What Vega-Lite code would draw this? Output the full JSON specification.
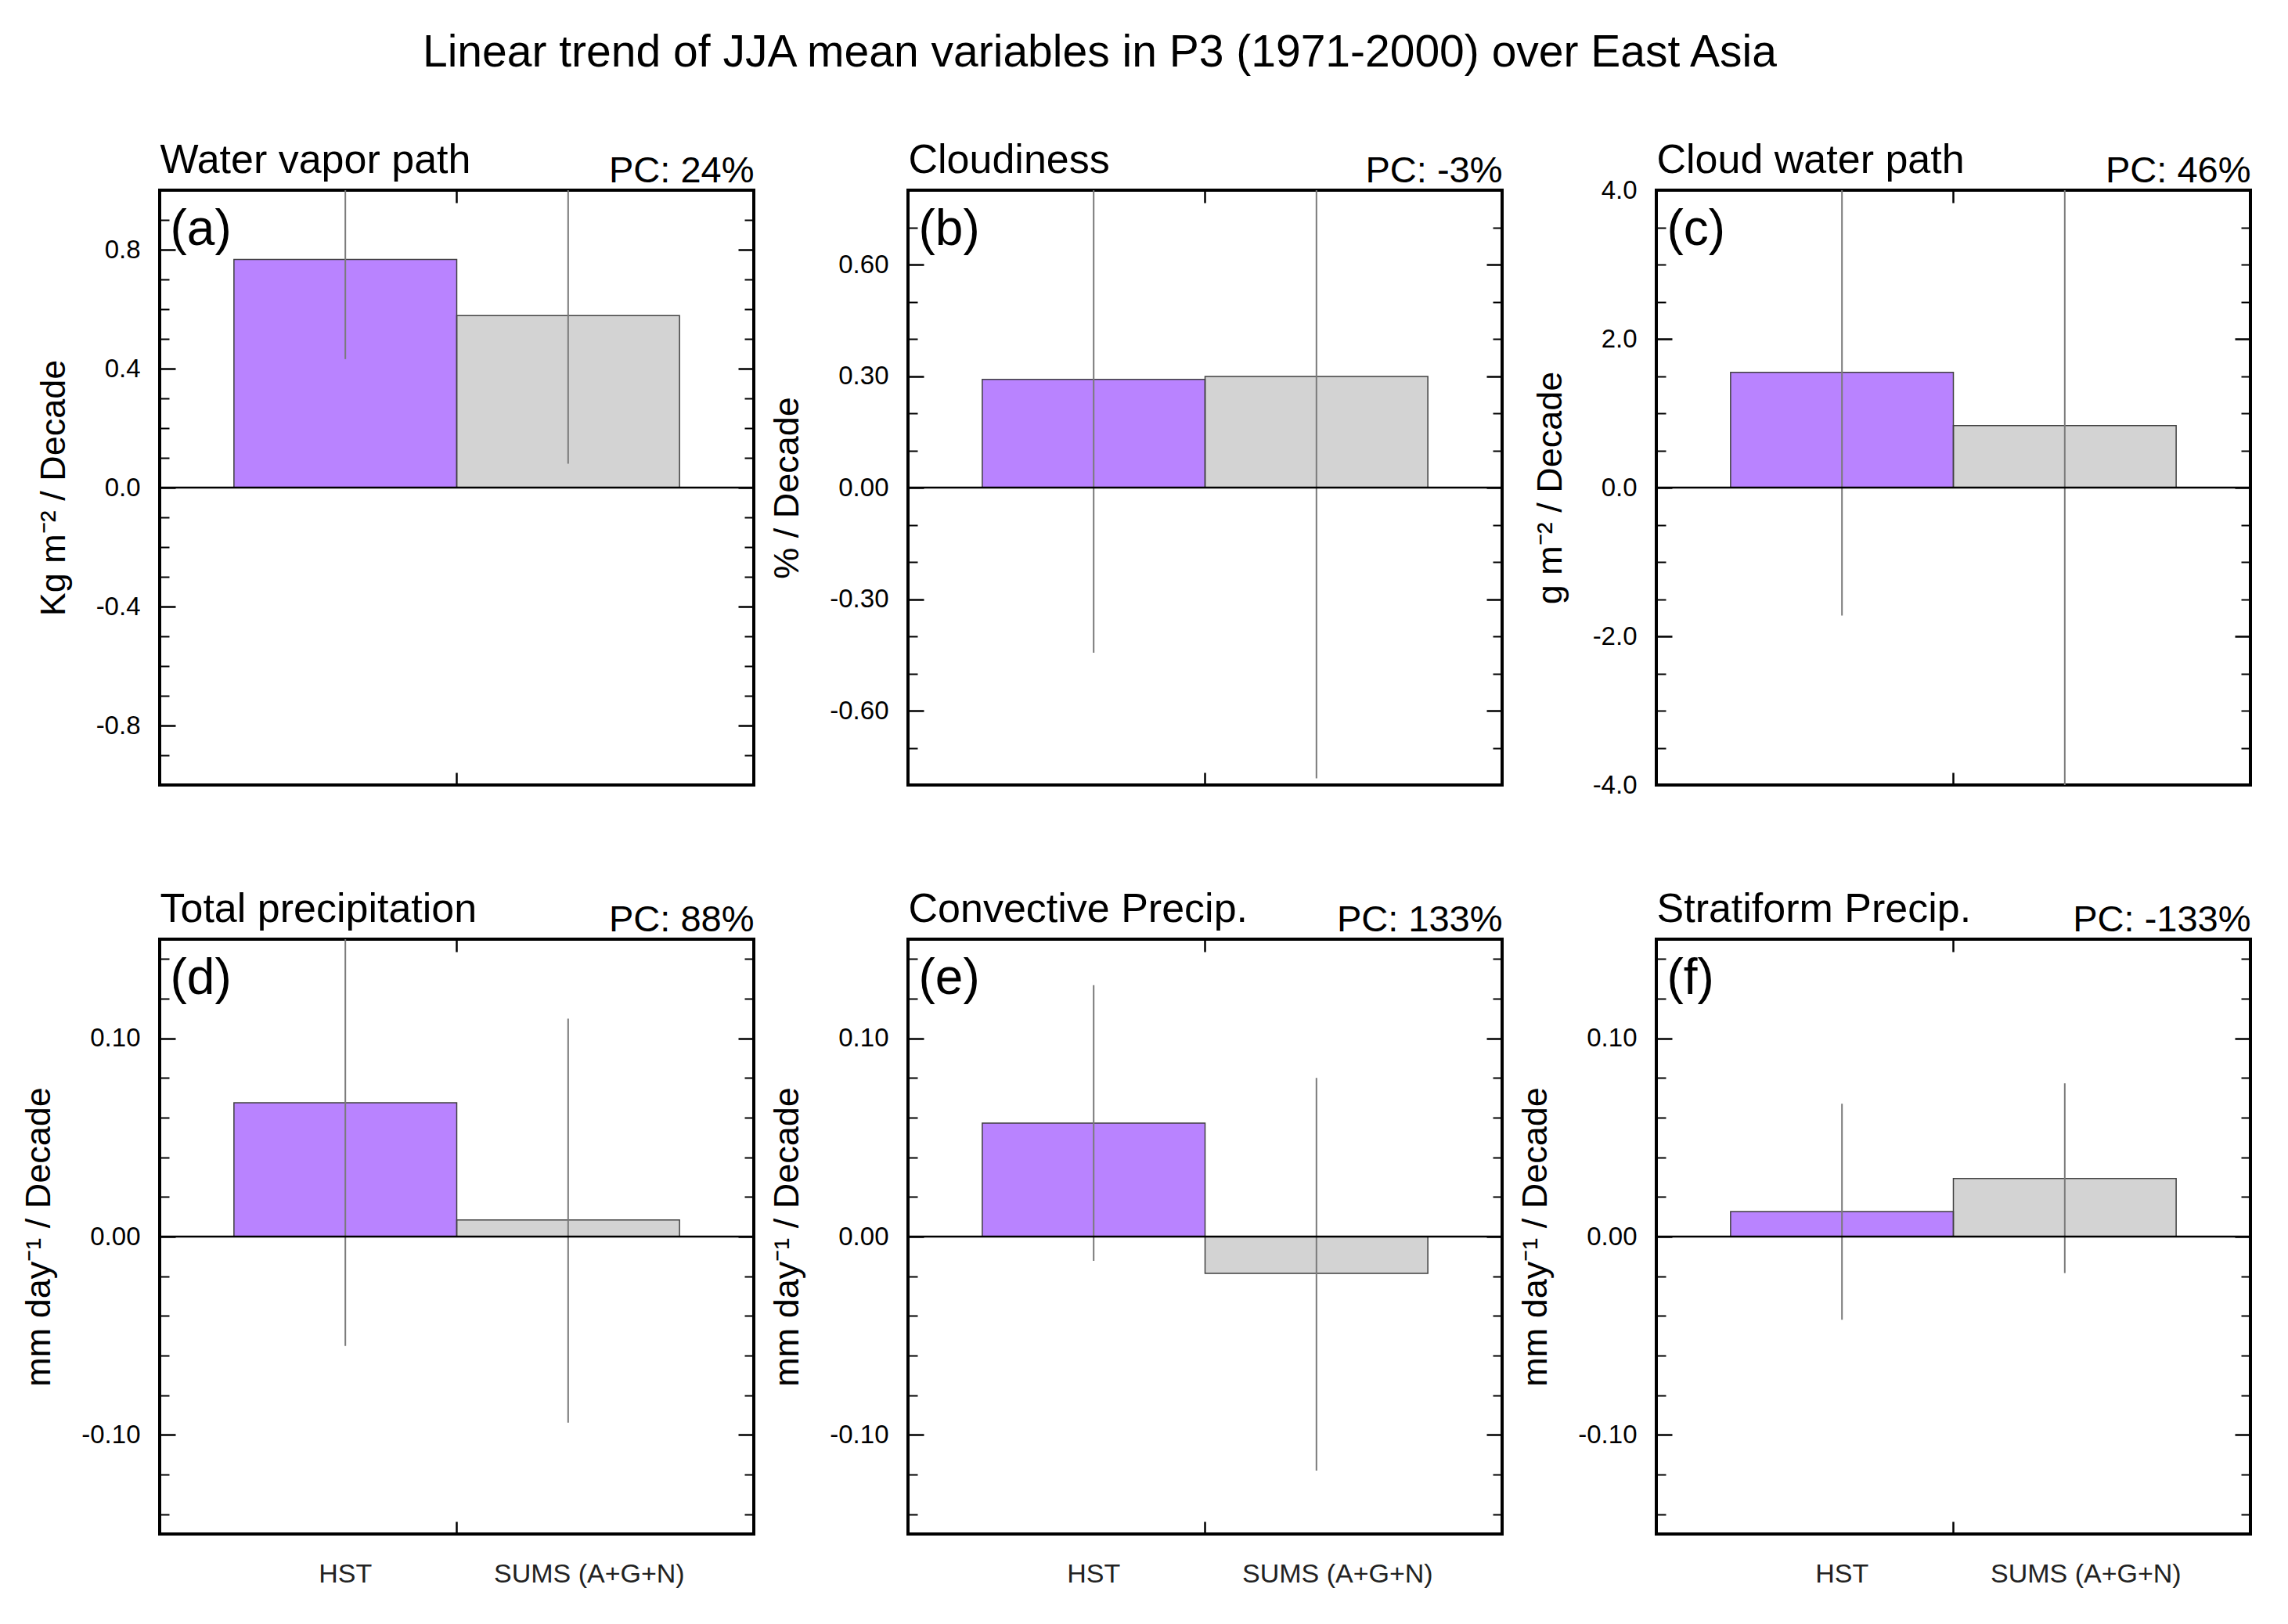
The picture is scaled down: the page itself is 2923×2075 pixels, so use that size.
{
  "$schema": "https://vega.github.io/schema/vega-lite/v6.json",
  "autosize": {"type": "pad"},
  "padding": {"left": 25, "top": 39, "right": 20, "bottom": 10},
  "background": "white",
  "title": {"text": "Linear trend of JJA mean variables in P3 (1971-2000) over East Asia", "anchor": "start", "frame": "group", "dx": 336, "offset": 34, "fontSize": 57, "fontWeight": "normal", "baseline": "alphabetic", "color": "black", "font": "Liberation Sans"},
  "data": {"values": [
    {"panel": "a", "group": "HST", "value": 0.767, "lo": 0.432, "hi": 1.102},
    {"panel": "a", "group": "SUMS (A+G+N)", "value": 0.578, "lo": 0.080, "hi": 1.076},
    {"panel": "b", "group": "HST", "value": 0.291, "lo": -0.444, "hi": 1.026},
    {"panel": "b", "group": "SUMS (A+G+N)", "value": 0.299, "lo": -0.782, "hi": 1.380},
    {"panel": "c", "group": "HST", "value": 1.549, "lo": -1.721, "hi": 4.819},
    {"panel": "c", "group": "SUMS (A+G+N)", "value": 0.834, "lo": -4.2, "hi": 5.868},
    {"panel": "d", "group": "HST", "value": 0.0675, "lo": -0.0552, "hi": 0.190},
    {"panel": "d", "group": "SUMS (A+G+N)", "value": 0.0084, "lo": -0.0938, "hi": 0.1099},
    {"panel": "e", "group": "HST", "value": 0.0572, "lo": -0.0122, "hi": 0.1268},
    {"panel": "e", "group": "SUMS (A+G+N)", "value": -0.0186, "lo": -0.118, "hi": 0.080},
    {"panel": "f", "group": "HST", "value": 0.0126, "lo": -0.0419, "hi": 0.067},
    {"panel": "f", "group": "SUMS (A+G+N)", "value": 0.0293, "lo": -0.0184, "hi": 0.0773}
  ]},
  "columns": 3,
  "spacing": 197,
  "bounds": "flush",
  "concat": [
    {
      "width": 759, "height": 760,
      "transform": [{"filter": "datum.panel === 'a'"}],
      "resolve": {"axis": {"x": "independent", "y": "independent"}},
      "layer": [
        {"mark": {"type": "bar", "strokeWidth": 0},
         "encoding": {
           "x": {"field": "group", "type": "nominal", "scale": {"type": "band", "domain": ["HST", "SUMS (A+G+N)"], "paddingInner": 0, "paddingOuter": 0.3333}, "axis": {"orient": "bottom", "values": ["SUMS (A+G+N)"], "bandPosition": 0, "tickSize": -16, "tickWidth": 2.5, "tickColor": "black", "labels": false, "domain": false, "grid": false, "title": null}},
           "y": {"field": "value", "type": "quantitative", "scale": {"domain": [-1, 1], "nice": false, "zero": false}, "axis": {"orient": "left", "values": [-0.8, -0.4, 0, 0.4, 0.8], "tickSize": -20, "tickWidth": 2.5, "tickColor": "black", "labelPadding": 45, "labelFontSize": 33, "labelColor": "black", "labelExpr": "replace(format(datum.value, '.1f'), '\u2212', '-')", "labelOverlap": false, "domain": false, "grid": false, "title": "Kg m\u207b\u00b2 / Decade", "titleFontSize": 45, "titleFontWeight": "normal", "titlePadding": 31, "titleColor": "black"}},
           "y2": {"datum": 0},
           "color": {"field": "group", "type": "nominal", "scale": {"domain": ["HST", "SUMS (A+G+N)"], "range": ["#B983FF", "#D3D3D3"]}, "legend": null}
         }},
        {"mark": {"type": "bar", "filled": false, "stroke": "#404040", "strokeWidth": 1.5},
         "encoding": {
           "x": {"field": "group", "type": "nominal", "scale": {"type": "band", "domain": ["HST", "SUMS (A+G+N)"], "paddingInner": 0, "paddingOuter": 0.3333}, "axis": null},
           "y": {"field": "value", "type": "quantitative", "scale": {"domain": [-1, 1], "nice": false, "zero": false}, "axis": {"orient": "right", "values": [-0.9, -0.7, -0.6, -0.5, -0.3, -0.2, -0.1, 0.1, 0.2, 0.3, 0.5, 0.6, 0.7, 0.9], "tickSize": -12, "tickWidth": 2, "tickColor": "black", "labels": false, "domain": false, "grid": false, "title": null}},
           "y2": {"datum": 0}
         }},
        {"mark": {"type": "rule", "color": "#7a7a7a", "strokeWidth": 2, "clip": true},
         "encoding": {
           "x": {"field": "group", "type": "nominal", "scale": {"type": "band", "domain": ["HST", "SUMS (A+G+N)"], "paddingInner": 0, "paddingOuter": 0.3333}, "axis": {"orient": "top", "values": ["SUMS (A+G+N)"], "bandPosition": 0, "tickSize": -16, "tickWidth": 2.5, "tickColor": "black", "labels": false, "domain": false, "grid": false, "title": "Water vapor path", "titleX": 0, "titleY": -23, "titleAngle": 0, "titleAlign": "left", "titleBaseline": "alphabetic", "titleFontSize": 52, "titleFontWeight": "normal", "titleColor": "black"}},
           "y": {"field": "lo", "type": "quantitative", "scale": {"domain": [-1, 1], "nice": false, "zero": false}, "axis": {"orient": "right", "values": [-0.8, -0.4, 0, 0.4, 0.8], "tickSize": -20, "tickWidth": 2.5, "tickColor": "black", "labels": false, "domain": false, "grid": false, "title": "PC: 24%", "titleX": 0, "titleY": -11, "titleAngle": 0, "titleAlign": "right", "titleBaseline": "alphabetic", "titleFontSize": 47, "titleFontWeight": "normal", "titleColor": "black"}},
           "y2": {"field": "hi"}
         }},
        {"transform": [{"filter": "datum.group === 'HST'"}],
         "mark": {"type": "rule", "color": "black", "strokeWidth": 2.5},
         "encoding": {
           "y": {"datum": 0, "type": "quantitative", "scale": {"domain": [-1, 1], "nice": false, "zero": false}, "axis": {"orient": "left", "values": [-0.9, -0.7, -0.6, -0.5, -0.3, -0.2, -0.1, 0.1, 0.2, 0.3, 0.5, 0.6, 0.7, 0.9], "tickSize": -12, "tickWidth": 2, "tickColor": "black", "labels": false, "domain": false, "grid": false, "title": "(a)", "titleX": 13, "titleY": 69, "titleAngle": 0, "titleAlign": "left", "titleBaseline": "alphabetic", "titleFontSize": 64, "titleFontWeight": "normal", "titleColor": "black"}}
         }}
      ]
    },
    {
      "width": 759, "height": 760,
      "transform": [{"filter": "datum.panel === 'b'"}],
      "resolve": {"axis": {"x": "independent", "y": "independent"}},
      "layer": [
        {"mark": {"type": "bar", "strokeWidth": 0},
         "encoding": {
           "x": {"field": "group", "type": "nominal", "scale": {"type": "band", "domain": ["HST", "SUMS (A+G+N)"], "paddingInner": 0, "paddingOuter": 0.3333}, "axis": {"orient": "bottom", "values": ["SUMS (A+G+N)"], "bandPosition": 0, "tickSize": -16, "tickWidth": 2.5, "tickColor": "black", "labels": false, "domain": false, "grid": false, "title": null}},
           "y": {"field": "value", "type": "quantitative", "scale": {"domain": [-0.8, 0.8], "nice": false, "zero": false}, "axis": {"orient": "left", "values": [-0.6, -0.3, 0, 0.3, 0.6], "tickSize": -20, "tickWidth": 2.5, "tickColor": "black", "labelPadding": 45, "labelFontSize": 33, "labelColor": "black", "labelExpr": "replace(format(datum.value, '.2f'), '\u2212', '-')", "labelOverlap": false, "domain": false, "grid": false, "title": "% / Decade", "titleFontSize": 45, "titleFontWeight": "normal", "titlePadding": 31, "titleColor": "black"}},
           "y2": {"datum": 0},
           "color": {"field": "group", "type": "nominal", "scale": {"domain": ["HST", "SUMS (A+G+N)"], "range": ["#B983FF", "#D3D3D3"]}, "legend": null}
         }},
        {"mark": {"type": "bar", "filled": false, "stroke": "#404040", "strokeWidth": 1.5},
         "encoding": {
           "x": {"field": "group", "type": "nominal", "scale": {"type": "band", "domain": ["HST", "SUMS (A+G+N)"], "paddingInner": 0, "paddingOuter": 0.3333}, "axis": null},
           "y": {"field": "value", "type": "quantitative", "scale": {"domain": [-0.8, 0.8], "nice": false, "zero": false}, "axis": {"orient": "right", "values": [-0.7, -0.5, -0.4, -0.2, -0.1, 0.1, 0.2, 0.4, 0.5, 0.7], "tickSize": -12, "tickWidth": 2, "tickColor": "black", "labels": false, "domain": false, "grid": false, "title": null}},
           "y2": {"datum": 0}
         }},
        {"mark": {"type": "rule", "color": "#7a7a7a", "strokeWidth": 2, "clip": true},
         "encoding": {
           "x": {"field": "group", "type": "nominal", "scale": {"type": "band", "domain": ["HST", "SUMS (A+G+N)"], "paddingInner": 0, "paddingOuter": 0.3333}, "axis": {"orient": "top", "values": ["SUMS (A+G+N)"], "bandPosition": 0, "tickSize": -16, "tickWidth": 2.5, "tickColor": "black", "labels": false, "domain": false, "grid": false, "title": "Cloudiness", "titleX": 0, "titleY": -23, "titleAngle": 0, "titleAlign": "left", "titleBaseline": "alphabetic", "titleFontSize": 52, "titleFontWeight": "normal", "titleColor": "black"}},
           "y": {"field": "lo", "type": "quantitative", "scale": {"domain": [-0.8, 0.8], "nice": false, "zero": false}, "axis": {"orient": "right", "values": [-0.6, -0.3, 0, 0.3, 0.6], "tickSize": -20, "tickWidth": 2.5, "tickColor": "black", "labels": false, "domain": false, "grid": false, "title": "PC: -3%", "titleX": 0, "titleY": -11, "titleAngle": 0, "titleAlign": "right", "titleBaseline": "alphabetic", "titleFontSize": 47, "titleFontWeight": "normal", "titleColor": "black"}},
           "y2": {"field": "hi"}
         }},
        {"transform": [{"filter": "datum.group === 'HST'"}],
         "mark": {"type": "rule", "color": "black", "strokeWidth": 2.5},
         "encoding": {
           "y": {"datum": 0, "type": "quantitative", "scale": {"domain": [-0.8, 0.8], "nice": false, "zero": false}, "axis": {"orient": "left", "values": [-0.7, -0.5, -0.4, -0.2, -0.1, 0.1, 0.2, 0.4, 0.5, 0.7], "tickSize": -12, "tickWidth": 2, "tickColor": "black", "labels": false, "domain": false, "grid": false, "title": "(b)", "titleX": 13, "titleY": 69, "titleAngle": 0, "titleAlign": "left", "titleBaseline": "alphabetic", "titleFontSize": 64, "titleFontWeight": "normal", "titleColor": "black"}}
         }}
      ]
    },
    {
      "width": 759, "height": 760,
      "transform": [{"filter": "datum.panel === 'c'"}],
      "resolve": {"axis": {"x": "independent", "y": "independent"}},
      "layer": [
        {"mark": {"type": "bar", "strokeWidth": 0},
         "encoding": {
           "x": {"field": "group", "type": "nominal", "scale": {"type": "band", "domain": ["HST", "SUMS (A+G+N)"], "paddingInner": 0, "paddingOuter": 0.3333}, "axis": {"orient": "bottom", "values": ["SUMS (A+G+N)"], "bandPosition": 0, "tickSize": -16, "tickWidth": 2.5, "tickColor": "black", "labels": false, "domain": false, "grid": false, "title": null}},
           "y": {"field": "value", "type": "quantitative", "scale": {"domain": [-4, 4], "nice": false, "zero": false}, "axis": {"orient": "left", "values": [-4, -2, 0, 2, 4], "tickSize": -20, "tickWidth": 2.5, "tickColor": "black", "labelPadding": 45, "labelFontSize": 33, "labelColor": "black", "labelExpr": "replace(format(datum.value, '.1f'), '\u2212', '-')", "labelOverlap": false, "domain": false, "grid": false, "title": "g m\u207b\u00b2 / Decade", "titleFontSize": 45, "titleFontWeight": "normal", "titlePadding": 31, "titleColor": "black"}},
           "y2": {"datum": 0},
           "color": {"field": "group", "type": "nominal", "scale": {"domain": ["HST", "SUMS (A+G+N)"], "range": ["#B983FF", "#D3D3D3"]}, "legend": null}
         }},
        {"mark": {"type": "bar", "filled": false, "stroke": "#404040", "strokeWidth": 1.5},
         "encoding": {
           "x": {"field": "group", "type": "nominal", "scale": {"type": "band", "domain": ["HST", "SUMS (A+G+N)"], "paddingInner": 0, "paddingOuter": 0.3333}, "axis": null},
           "y": {"field": "value", "type": "quantitative", "scale": {"domain": [-4, 4], "nice": false, "zero": false}, "axis": {"orient": "right", "values": [-3.5, -3, -2.5, -1.5, -1, -0.5, 0.5, 1, 1.5, 2.5, 3, 3.5], "tickSize": -12, "tickWidth": 2, "tickColor": "black", "labels": false, "domain": false, "grid": false, "title": null}},
           "y2": {"datum": 0}
         }},
        {"mark": {"type": "rule", "color": "#7a7a7a", "strokeWidth": 2, "clip": true},
         "encoding": {
           "x": {"field": "group", "type": "nominal", "scale": {"type": "band", "domain": ["HST", "SUMS (A+G+N)"], "paddingInner": 0, "paddingOuter": 0.3333}, "axis": {"orient": "top", "values": ["SUMS (A+G+N)"], "bandPosition": 0, "tickSize": -16, "tickWidth": 2.5, "tickColor": "black", "labels": false, "domain": false, "grid": false, "title": "Cloud water path", "titleX": 0, "titleY": -23, "titleAngle": 0, "titleAlign": "left", "titleBaseline": "alphabetic", "titleFontSize": 52, "titleFontWeight": "normal", "titleColor": "black"}},
           "y": {"field": "lo", "type": "quantitative", "scale": {"domain": [-4, 4], "nice": false, "zero": false}, "axis": {"orient": "right", "values": [-4, -2, 0, 2, 4], "tickSize": -20, "tickWidth": 2.5, "tickColor": "black", "labels": false, "domain": false, "grid": false, "title": "PC: 46%", "titleX": 0, "titleY": -11, "titleAngle": 0, "titleAlign": "right", "titleBaseline": "alphabetic", "titleFontSize": 47, "titleFontWeight": "normal", "titleColor": "black"}},
           "y2": {"field": "hi"}
         }},
        {"transform": [{"filter": "datum.group === 'HST'"}],
         "mark": {"type": "rule", "color": "black", "strokeWidth": 2.5},
         "encoding": {
           "y": {"datum": 0, "type": "quantitative", "scale": {"domain": [-4, 4], "nice": false, "zero": false}, "axis": {"orient": "left", "values": [-3.5, -3, -2.5, -1.5, -1, -0.5, 0.5, 1, 1.5, 2.5, 3, 3.5], "tickSize": -12, "tickWidth": 2, "tickColor": "black", "labels": false, "domain": false, "grid": false, "title": "(c)", "titleX": 13, "titleY": 69, "titleAngle": 0, "titleAlign": "left", "titleBaseline": "alphabetic", "titleFontSize": 64, "titleFontWeight": "normal", "titleColor": "black"}}
         }}
      ]
    },
    {
      "width": 759, "height": 760,
      "transform": [{"filter": "datum.panel === 'd'"}],
      "resolve": {"axis": {"x": "independent", "y": "independent"}},
      "layer": [
        {"mark": {"type": "bar", "strokeWidth": 0},
         "encoding": {
           "x": {"field": "group", "type": "nominal", "scale": {"type": "band", "domain": ["HST", "SUMS (A+G+N)"], "paddingInner": 0, "paddingOuter": 0.3333}, "axis": {"orient": "bottom", "values": ["SUMS (A+G+N)"], "bandPosition": 0, "tickSize": -16, "tickWidth": 2.5, "tickColor": "black", "labels": false, "domain": false, "grid": false, "title": null}},
           "y": {"field": "value", "type": "quantitative", "scale": {"domain": [-0.15, 0.15], "nice": false, "zero": false}, "axis": {"orient": "left", "values": [-0.1, 0, 0.1], "tickSize": -20, "tickWidth": 2.5, "tickColor": "black", "labelPadding": 45, "labelFontSize": 33, "labelColor": "black", "labelExpr": "replace(format(datum.value, '.2f'), '\u2212', '-')", "labelOverlap": false, "domain": false, "grid": false, "title": "mm day\u207b\u00b9 / Decade", "titleFontSize": 45, "titleFontWeight": "normal", "titlePadding": 31, "titleColor": "black"}},
           "y2": {"datum": 0},
           "color": {"field": "group", "type": "nominal", "scale": {"domain": ["HST", "SUMS (A+G+N)"], "range": ["#B983FF", "#D3D3D3"]}, "legend": null}
         }},
        {"mark": {"type": "bar", "filled": false, "stroke": "#404040", "strokeWidth": 1.5},
         "encoding": {
           "x": {"field": "group", "type": "nominal", "scale": {"type": "band", "domain": ["HST", "SUMS (A+G+N)"], "paddingInner": 0, "paddingOuter": 0.3333}, "axis": {"orient": "bottom", "ticks": false, "domain": false, "grid": false, "labelAngle": 0, "labelAlign": "center", "labelLimit": 0, "labelPadding": 34, "labelFontSize": 34, "labelColor": "#222222", "labelBaseline": "top", "labelOffset": {"condition": {"test": "datum.value === 'SUMS (A+G+N)'", "value": 27}, "value": 0}, "title": null}},
           "y": {"field": "value", "type": "quantitative", "scale": {"domain": [-0.15, 0.15], "nice": false, "zero": false}, "axis": {"orient": "right", "values": [-0.14, -0.12, -0.08, -0.06, -0.04, -0.02, 0.02, 0.04, 0.06, 0.08, 0.12, 0.14], "tickSize": -12, "tickWidth": 2, "tickColor": "black", "labels": false, "domain": false, "grid": false, "title": null}},
           "y2": {"datum": 0}
         }},
        {"mark": {"type": "rule", "color": "#7a7a7a", "strokeWidth": 2, "clip": true},
         "encoding": {
           "x": {"field": "group", "type": "nominal", "scale": {"type": "band", "domain": ["HST", "SUMS (A+G+N)"], "paddingInner": 0, "paddingOuter": 0.3333}, "axis": {"orient": "top", "values": ["SUMS (A+G+N)"], "bandPosition": 0, "tickSize": -16, "tickWidth": 2.5, "tickColor": "black", "labels": false, "domain": false, "grid": false, "title": "Total precipitation", "titleX": 0, "titleY": -23, "titleAngle": 0, "titleAlign": "left", "titleBaseline": "alphabetic", "titleFontSize": 52, "titleFontWeight": "normal", "titleColor": "black"}},
           "y": {"field": "lo", "type": "quantitative", "scale": {"domain": [-0.15, 0.15], "nice": false, "zero": false}, "axis": {"orient": "right", "values": [-0.1, 0, 0.1], "tickSize": -20, "tickWidth": 2.5, "tickColor": "black", "labels": false, "domain": false, "grid": false, "title": "PC: 88%", "titleX": 0, "titleY": -11, "titleAngle": 0, "titleAlign": "right", "titleBaseline": "alphabetic", "titleFontSize": 47, "titleFontWeight": "normal", "titleColor": "black"}},
           "y2": {"field": "hi"}
         }},
        {"transform": [{"filter": "datum.group === 'HST'"}],
         "mark": {"type": "rule", "color": "black", "strokeWidth": 2.5},
         "encoding": {
           "y": {"datum": 0, "type": "quantitative", "scale": {"domain": [-0.15, 0.15], "nice": false, "zero": false}, "axis": {"orient": "left", "values": [-0.14, -0.12, -0.08, -0.06, -0.04, -0.02, 0.02, 0.04, 0.06, 0.08, 0.12, 0.14], "tickSize": -12, "tickWidth": 2, "tickColor": "black", "labels": false, "domain": false, "grid": false, "title": "(d)", "titleX": 13, "titleY": 69, "titleAngle": 0, "titleAlign": "left", "titleBaseline": "alphabetic", "titleFontSize": 64, "titleFontWeight": "normal", "titleColor": "black"}}
         }}
      ]
    },
    {
      "width": 759, "height": 760,
      "transform": [{"filter": "datum.panel === 'e'"}],
      "resolve": {"axis": {"x": "independent", "y": "independent"}},
      "layer": [
        {"mark": {"type": "bar", "strokeWidth": 0},
         "encoding": {
           "x": {"field": "group", "type": "nominal", "scale": {"type": "band", "domain": ["HST", "SUMS (A+G+N)"], "paddingInner": 0, "paddingOuter": 0.3333}, "axis": {"orient": "bottom", "values": ["SUMS (A+G+N)"], "bandPosition": 0, "tickSize": -16, "tickWidth": 2.5, "tickColor": "black", "labels": false, "domain": false, "grid": false, "title": null}},
           "y": {"field": "value", "type": "quantitative", "scale": {"domain": [-0.15, 0.15], "nice": false, "zero": false}, "axis": {"orient": "left", "values": [-0.1, 0, 0.1], "tickSize": -20, "tickWidth": 2.5, "tickColor": "black", "labelPadding": 45, "labelFontSize": 33, "labelColor": "black", "labelExpr": "replace(format(datum.value, '.2f'), '\u2212', '-')", "labelOverlap": false, "domain": false, "grid": false, "title": "mm day\u207b\u00b9 / Decade", "titleFontSize": 45, "titleFontWeight": "normal", "titlePadding": 31, "titleColor": "black"}},
           "y2": {"datum": 0},
           "color": {"field": "group", "type": "nominal", "scale": {"domain": ["HST", "SUMS (A+G+N)"], "range": ["#B983FF", "#D3D3D3"]}, "legend": null}
         }},
        {"mark": {"type": "bar", "filled": false, "stroke": "#404040", "strokeWidth": 1.5},
         "encoding": {
           "x": {"field": "group", "type": "nominal", "scale": {"type": "band", "domain": ["HST", "SUMS (A+G+N)"], "paddingInner": 0, "paddingOuter": 0.3333}, "axis": {"orient": "bottom", "ticks": false, "domain": false, "grid": false, "labelAngle": 0, "labelAlign": "center", "labelLimit": 0, "labelPadding": 34, "labelFontSize": 34, "labelColor": "#222222", "labelBaseline": "top", "labelOffset": {"condition": {"test": "datum.value === 'SUMS (A+G+N)'", "value": 27}, "value": 0}, "title": null}},
           "y": {"field": "value", "type": "quantitative", "scale": {"domain": [-0.15, 0.15], "nice": false, "zero": false}, "axis": {"orient": "right", "values": [-0.14, -0.12, -0.08, -0.06, -0.04, -0.02, 0.02, 0.04, 0.06, 0.08, 0.12, 0.14], "tickSize": -12, "tickWidth": 2, "tickColor": "black", "labels": false, "domain": false, "grid": false, "title": null}},
           "y2": {"datum": 0}
         }},
        {"mark": {"type": "rule", "color": "#7a7a7a", "strokeWidth": 2, "clip": true},
         "encoding": {
           "x": {"field": "group", "type": "nominal", "scale": {"type": "band", "domain": ["HST", "SUMS (A+G+N)"], "paddingInner": 0, "paddingOuter": 0.3333}, "axis": {"orient": "top", "values": ["SUMS (A+G+N)"], "bandPosition": 0, "tickSize": -16, "tickWidth": 2.5, "tickColor": "black", "labels": false, "domain": false, "grid": false, "title": "Convective Precip.", "titleX": 0, "titleY": -23, "titleAngle": 0, "titleAlign": "left", "titleBaseline": "alphabetic", "titleFontSize": 52, "titleFontWeight": "normal", "titleColor": "black"}},
           "y": {"field": "lo", "type": "quantitative", "scale": {"domain": [-0.15, 0.15], "nice": false, "zero": false}, "axis": {"orient": "right", "values": [-0.1, 0, 0.1], "tickSize": -20, "tickWidth": 2.5, "tickColor": "black", "labels": false, "domain": false, "grid": false, "title": "PC: 133%", "titleX": 0, "titleY": -11, "titleAngle": 0, "titleAlign": "right", "titleBaseline": "alphabetic", "titleFontSize": 47, "titleFontWeight": "normal", "titleColor": "black"}},
           "y2": {"field": "hi"}
         }},
        {"transform": [{"filter": "datum.group === 'HST'"}],
         "mark": {"type": "rule", "color": "black", "strokeWidth": 2.5},
         "encoding": {
           "y": {"datum": 0, "type": "quantitative", "scale": {"domain": [-0.15, 0.15], "nice": false, "zero": false}, "axis": {"orient": "left", "values": [-0.14, -0.12, -0.08, -0.06, -0.04, -0.02, 0.02, 0.04, 0.06, 0.08, 0.12, 0.14], "tickSize": -12, "tickWidth": 2, "tickColor": "black", "labels": false, "domain": false, "grid": false, "title": "(e)", "titleX": 13, "titleY": 69, "titleAngle": 0, "titleAlign": "left", "titleBaseline": "alphabetic", "titleFontSize": 64, "titleFontWeight": "normal", "titleColor": "black"}}
         }}
      ]
    },
    {
      "width": 759, "height": 760,
      "transform": [{"filter": "datum.panel === 'f'"}],
      "resolve": {"axis": {"x": "independent", "y": "independent"}},
      "layer": [
        {"mark": {"type": "bar", "strokeWidth": 0},
         "encoding": {
           "x": {"field": "group", "type": "nominal", "scale": {"type": "band", "domain": ["HST", "SUMS (A+G+N)"], "paddingInner": 0, "paddingOuter": 0.3333}, "axis": {"orient": "bottom", "values": ["SUMS (A+G+N)"], "bandPosition": 0, "tickSize": -16, "tickWidth": 2.5, "tickColor": "black", "labels": false, "domain": false, "grid": false, "title": null}},
           "y": {"field": "value", "type": "quantitative", "scale": {"domain": [-0.15, 0.15], "nice": false, "zero": false}, "axis": {"orient": "left", "values": [-0.1, 0, 0.1], "tickSize": -20, "tickWidth": 2.5, "tickColor": "black", "labelPadding": 45, "labelFontSize": 33, "labelColor": "black", "labelExpr": "replace(format(datum.value, '.2f'), '\u2212', '-')", "labelOverlap": false, "domain": false, "grid": false, "title": "mm day\u207b\u00b9 / Decade", "titleFontSize": 45, "titleFontWeight": "normal", "titlePadding": 31, "titleColor": "black"}},
           "y2": {"datum": 0},
           "color": {"field": "group", "type": "nominal", "scale": {"domain": ["HST", "SUMS (A+G+N)"], "range": ["#B983FF", "#D3D3D3"]}, "legend": null}
         }},
        {"mark": {"type": "bar", "filled": false, "stroke": "#404040", "strokeWidth": 1.5},
         "encoding": {
           "x": {"field": "group", "type": "nominal", "scale": {"type": "band", "domain": ["HST", "SUMS (A+G+N)"], "paddingInner": 0, "paddingOuter": 0.3333}, "axis": {"orient": "bottom", "ticks": false, "domain": false, "grid": false, "labelAngle": 0, "labelAlign": "center", "labelLimit": 0, "labelPadding": 34, "labelFontSize": 34, "labelColor": "#222222", "labelBaseline": "top", "labelOffset": {"condition": {"test": "datum.value === 'SUMS (A+G+N)'", "value": 27}, "value": 0}, "title": null}},
           "y": {"field": "value", "type": "quantitative", "scale": {"domain": [-0.15, 0.15], "nice": false, "zero": false}, "axis": {"orient": "right", "values": [-0.14, -0.12, -0.08, -0.06, -0.04, -0.02, 0.02, 0.04, 0.06, 0.08, 0.12, 0.14], "tickSize": -12, "tickWidth": 2, "tickColor": "black", "labels": false, "domain": false, "grid": false, "title": null}},
           "y2": {"datum": 0}
         }},
        {"mark": {"type": "rule", "color": "#7a7a7a", "strokeWidth": 2, "clip": true},
         "encoding": {
           "x": {"field": "group", "type": "nominal", "scale": {"type": "band", "domain": ["HST", "SUMS (A+G+N)"], "paddingInner": 0, "paddingOuter": 0.3333}, "axis": {"orient": "top", "values": ["SUMS (A+G+N)"], "bandPosition": 0, "tickSize": -16, "tickWidth": 2.5, "tickColor": "black", "labels": false, "domain": false, "grid": false, "title": "Stratiform Precip.", "titleX": 0, "titleY": -23, "titleAngle": 0, "titleAlign": "left", "titleBaseline": "alphabetic", "titleFontSize": 52, "titleFontWeight": "normal", "titleColor": "black"}},
           "y": {"field": "lo", "type": "quantitative", "scale": {"domain": [-0.15, 0.15], "nice": false, "zero": false}, "axis": {"orient": "right", "values": [-0.1, 0, 0.1], "tickSize": -20, "tickWidth": 2.5, "tickColor": "black", "labels": false, "domain": false, "grid": false, "title": "PC: -133%", "titleX": 0, "titleY": -11, "titleAngle": 0, "titleAlign": "right", "titleBaseline": "alphabetic", "titleFontSize": 47, "titleFontWeight": "normal", "titleColor": "black"}},
           "y2": {"field": "hi"}
         }},
        {"transform": [{"filter": "datum.group === 'HST'"}],
         "mark": {"type": "rule", "color": "black", "strokeWidth": 2.5},
         "encoding": {
           "y": {"datum": 0, "type": "quantitative", "scale": {"domain": [-0.15, 0.15], "nice": false, "zero": false}, "axis": {"orient": "left", "values": [-0.14, -0.12, -0.08, -0.06, -0.04, -0.02, 0.02, 0.04, 0.06, 0.08, 0.12, 0.14], "tickSize": -12, "tickWidth": 2, "tickColor": "black", "labels": false, "domain": false, "grid": false, "title": "(f)", "titleX": 13, "titleY": 69, "titleAngle": 0, "titleAlign": "left", "titleBaseline": "alphabetic", "titleFontSize": 64, "titleFontWeight": "normal", "titleColor": "black"}}
         }}
      ]
    }
  ],
  "config": {
    "font": "Liberation Sans",
    "view": {"stroke": "black", "strokeWidth": 4},
    "axis": {"labelFont": "Liberation Sans", "titleFont": "Liberation Sans"}
  }
}
